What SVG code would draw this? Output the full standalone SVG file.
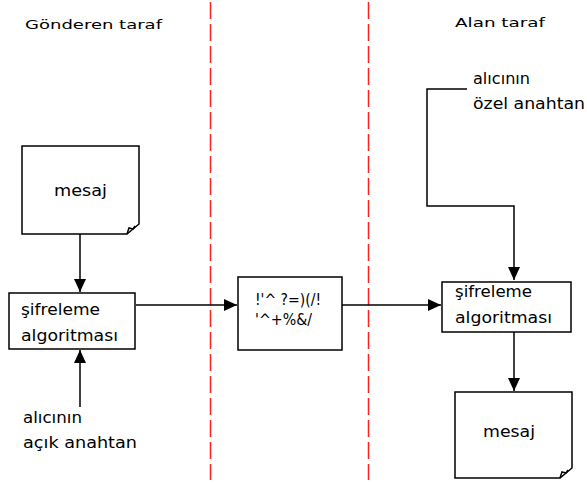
<svg xmlns="http://www.w3.org/2000/svg" width="587" height="485" viewBox="0 0 587 485">
<style>
.t{font-family:"DejaVu Sans","Liberation Sans",sans-serif;font-size:15px;fill:#000}
.h{font-size:13px}
.box{fill:#fff;stroke:#000;stroke-width:1.5}
.ln{fill:none;stroke:#000;stroke-width:1.5}
.dash{stroke:#ff2020;stroke-width:1.5;stroke-dasharray:17 5}
</style>
<defs>
<marker id="ah" markerUnits="userSpaceOnUse" markerWidth="14" markerHeight="12" refX="13" refY="6" orient="auto">
<path d="M0,0 L13,6 L0,12 Z" fill="#000"/>
</marker>
</defs>
<rect width="587" height="485" fill="#fff"/>
<g id="dividers">
<line class="dash" x1="210.5" y1="2" x2="210.5" y2="480"/>
<line class="dash" x1="368.5" y1="2" x2="368.5" y2="480"/>
</g>
<g id="titles">
<text class="t h" x="25" y="29" textLength="137" lengthAdjust="spacingAndGlyphs">Gönderen taraf</text>
<text class="t h" x="455" y="27" textLength="90" lengthAdjust="spacingAndGlyphs">Alan taraf</text>
</g>
<g id="connectors">
<line class="ln" x1="80" y1="234" x2="80" y2="292" marker-end="url(#ah)"/>
<line class="ln" x1="80" y1="407" x2="80" y2="350" marker-end="url(#ah)"/>
<line class="ln" x1="136" y1="305" x2="237" y2="305" marker-end="url(#ah)"/>
<line class="ln" x1="342" y1="305" x2="441" y2="305" marker-end="url(#ah)"/>
<polyline class="ln" points="467,89 427,89 427,206 514,206 514,280" marker-end="url(#ah)"/>
<line class="ln" x1="514" y1="332" x2="514" y2="391" marker-end="url(#ah)"/>
</g>
<g id="mesaj-left">
<path class="box" d="M22,146 H139 V224 L127,234 H22 Z"/>
<path class="ln" stroke-width="1" d="M127,234 L129,228 L133,229 L135,226"/>
<text class="t" x="54" y="196" textLength="53" lengthAdjust="spacingAndGlyphs">mesaj</text>
</g>
<g id="sifreleme-left">
<rect class="box" x="9" y="293" width="126" height="56"/>
<text class="t" x="21" y="315" textLength="79" lengthAdjust="spacingAndGlyphs">şifreleme</text>
<text class="t" x="21" y="341" textLength="97" lengthAdjust="spacingAndGlyphs">algoritması</text>
</g>
<g id="acik-anahtar">
<text class="t" x="23" y="423" textLength="59" lengthAdjust="spacingAndGlyphs">alıcının</text>
<text class="t" x="23" y="448" textLength="114" lengthAdjust="spacingAndGlyphs">açık anahtan</text>
</g>
<g id="sifreli">
<rect class="box" x="238" y="277" width="104" height="73"/>
<text class="t" x="255" y="305" textLength="66" lengthAdjust="spacingAndGlyphs">!'^ ?=)(/!</text>
<text class="t" x="255" y="325" textLength="57" lengthAdjust="spacingAndGlyphs">'^+%&amp;/</text>
</g>
<g id="ozel-anahtar">
<text class="t" x="473" y="84" textLength="57" lengthAdjust="spacingAndGlyphs">alıcının</text>
<text class="t" x="473" y="109" textLength="112" lengthAdjust="spacingAndGlyphs">özel anahtan</text>
</g>
<g id="sifreleme-right">
<rect class="box" x="442" y="282" width="129" height="50"/>
<text class="t" x="455" y="297" textLength="77" lengthAdjust="spacingAndGlyphs">şifreleme</text>
<text class="t" x="455" y="323" textLength="97" lengthAdjust="spacingAndGlyphs">algoritması</text>
</g>
<g id="mesaj-right">
<path class="box" d="M455,392 H572 V468 L560,478 H455 Z"/>
<path class="ln" stroke-width="1" d="M560,478 L562,472 L566,473 L568,470"/>
<text class="t" x="483" y="437" textLength="52" lengthAdjust="spacingAndGlyphs">mesaj</text>
</g>
</svg>
